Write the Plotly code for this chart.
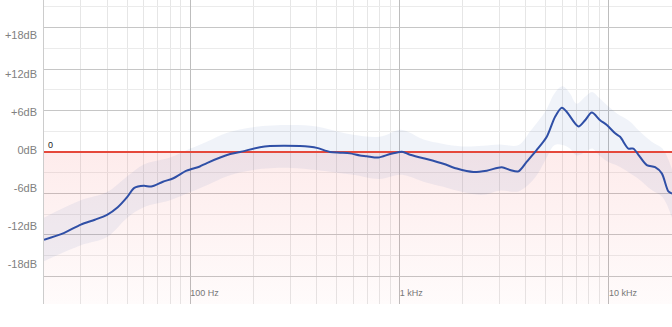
import math
import plotly.graph_objects as go

# frequency response (Hz, dB)
freq = [20, 25, 30, 35, 40, 45, 50, 54, 60, 65, 74, 83, 96, 111, 120, 155, 173, 215, 240,
        283, 334, 373, 402, 465, 520, 579, 646, 696, 790, 900, 1000, 1040, 1121, 1298,
        1617, 1874, 2250, 2608, 3076, 3370, 3692, 4050, 4520, 5044, 5528, 5952, 6290,
        7145, 7688, 8278, 9070, 9764, 10698, 11298, 12378, 13080, 13820, 15160, 16610,
        17880, 19220, 20000]
db = [-12.7, -11.7, -10.5, -9.8, -9.1, -8.0, -6.5, -5.2, -4.9, -5.0, -4.3, -3.8, -2.7,
      -2.1, -1.6, -0.3, 0.0, 0.7, 0.87, 0.9, 0.87, 0.75, 0.6, 0.0, -0.1, -0.2, -0.5,
      -0.6, -0.8, -0.3, 0.0, 0.0, -0.4, -0.9, -1.7, -2.4, -2.9, -2.7, -2.2, -2.6, -2.8,
      -1.4, 0.3, 2.2, 5.1, 6.4, 5.8, 3.7, 4.6, 5.7, 4.6, 3.9, 2.7, 2.2, 0.5, 0.5, -0.4,
      -1.9, -2.2, -3.1, -5.7, -6.0]

# confidence band (Hz, dB)
band_freq = [20, 30, 40, 50, 60, 80, 100, 120, 150, 200, 300, 400, 500, 600, 800, 1000,
             1100, 1300, 1600, 2000, 2500, 3000, 3700, 4200, 4600, 5000, 5500, 6000, 6500,
             7000, 7700, 8300, 9000, 10000, 11000, 12500, 14000, 16000, 18000, 20000]
band_hi = [-9.5, -7.0, -5.8, -3.5, -1.8, -0.8, 0.5, 1.5, 2.8, 3.6, 3.9, 3.7, 3.0, 2.5,
           2.2, 3.2, 2.9, 1.8, 1.2, 0.8, 0.9, 1.1, 1.0, 3.0, 4.5, 6.0, 8.5, 9.5, 8.5,
           7.0, 8.0, 8.7, 7.8, 6.5, 5.5, 4.5, 3.0, 1.5, 0.5, -2.5]
band_lo = [-15.8, -13.5, -12.3, -9.5, -8.0, -7.0, -5.8, -4.8, -3.5, -2.6, -2.3, -2.6,
           -3.0, -3.3, -3.9, -3.3, -3.5, -4.3, -5.0, -5.8, -6.2, -5.6, -5.7, -4.5, -3.0,
           -1.0, 1.0, 1.0, 0.5, -0.5, 0.0, 0.5, -0.5, -1.5, -2.0, -3.0, -4.0, -5.5, -6.5,
           -9.5]

y_ticks = [-18, -12, -6, 0, 6, 12, 18]
y_labels = ["-18dB", "-12dB", "-6dB", "0dB", "+6dB", "+12dB", "+18dB"]
y_minor = [-21, -15, -9, -3, 3, 9, 15, 21]
x_ticks = [100, 1000, 10000]
x_labels = ["100 Hz", "1 kHz", "10 kHz"]
x_minor = [m * d for d in (10, 100, 1000) for m in range(2, 10) if m * d != 20]
y_range = [-22, 22]
label_range = [-24.2, 23.6]   # the dB labels sit on a slightly compressed scale
x_span = [20, 20000]

fig = go.Figure()

# pink area below 0 dB
fig.add_trace(go.Scatter(
    x=[x_span[0], x_span[1], x_span[1], x_span[0], x_span[0]],
    y=[0, 0, y_range[0], y_range[0], 0],
    mode="none", fill="toself", hoverinfo="skip", showlegend=False,
    fillgradient=dict(type="vertical",
                      colorscale=[[0, "rgba(240,60,60,0.02)"],
                                  [1, "rgba(240,60,60,0.10)"]]),
))

# confidence band
fig.add_trace(go.Scatter(x=band_freq, y=band_hi, mode="lines", line=dict(width=0, shape="spline"),
                         hoverinfo="skip", showlegend=False))
fig.add_trace(go.Scatter(x=band_freq, y=band_lo, mode="lines", line=dict(width=0, shape="spline"),
                         fill="tonexty", fillcolor="rgba(70,100,180,0.08)",
                         hoverinfo="skip", showlegend=False))

# 0 dB reference line
fig.add_trace(go.Scatter(x=x_span, y=[0, 0], mode="lines",
                         line=dict(color="#e5483b", width=2), hoverinfo="skip", showlegend=False))

# response curve
fig.add_trace(go.Scatter(x=freq, y=db, mode="lines",
                         line=dict(color="#2f4fa6", width=2, shape="spline", smoothing=0.8),
                         showlegend=False))

# invisible trace to carry the label axis
fig.add_trace(go.Scatter(x=x_span, y=[0, 0], yaxis="y2", mode="lines",
                         line=dict(width=0), hoverinfo="skip", showlegend=False))

fig.add_annotation(x=0, xref="paper", y=0, yref="y", text="0", showarrow=False,
                   xanchor="left", yanchor="bottom", xshift=2, yshift=0,
                   font=dict(size=9, color="#222", family="Liberation Sans, Arial"))

fig.update_layout(
    width=672, height=327,
    margin=dict(l=44, r=0, t=0, b=23),
    paper_bgcolor="white", plot_bgcolor="white",
    font=dict(family="Liberation Sans, Arial, sans-serif"),
    xaxis=dict(type="log", range=[math.log10(x_span[0]), math.log10(x_span[1])],
               tickvals=x_ticks, ticktext=x_labels,
               showgrid=True, gridcolor="#bdbdbd", gridwidth=1,
               minor=dict(tickvals=x_minor, showgrid=True, gridcolor="#e6e6e6", gridwidth=1),
               ticklabelposition="inside right",
               tickfont=dict(size=9, color="#777"),
               ticks="", zeroline=False, showline=False, fixedrange=True),
    yaxis=dict(range=y_range, tickvals=y_ticks, showticklabels=False,
               showgrid=True, gridcolor="#c6c6c6", gridwidth=1,
               minor=dict(tickvals=y_minor, showgrid=True, gridcolor="#ebebeb", gridwidth=1),
               ticks="", zeroline=False, showline=True, linecolor="#cccccc", linewidth=1),
    yaxis2=dict(range=label_range, overlaying="y", side="left",
                tickvals=y_ticks, ticktext=y_labels,
                tickfont=dict(size=11, color="#808080"),
                ticks="", ticklabelstandoff=6, showgrid=False, zeroline=False,
                showline=False),
)

fig.write_html("out.html")
